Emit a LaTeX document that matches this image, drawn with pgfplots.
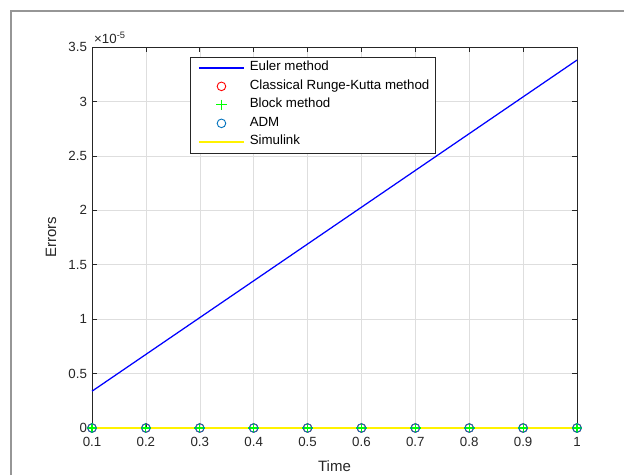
\documentclass[border=0pt]{standalone}
\usepackage{fontspec}
\setmainfont{Liberation Sans}
\usepackage{pgfplots}
\pgfplotsset{compat=1.18}
\definecolor{axisgray}{RGB}{38,38,38}
\definecolor{gridgray}{RGB}{222,222,222}
\definecolor{admblue}{RGB}{0,114,189}
\definecolor{framegray}{RGB}{150,150,150}
\begin{document}
\begin{tikzpicture}
\useasboundingbox (0,0) rectangle (624pt,475pt);
\fill[white] (0,0) rectangle (624pt,475pt);
\draw[framegray, line width=2pt] (11pt,0) -- (11pt,464pt) -- (624pt,464pt);
\begin{axis}[
  at={(92pt,47pt)}, anchor=south west,
  scale only axis, width=485pt, height=381pt,
  xmin=0.1, xmax=1, ymin=0, ymax=3.5,
  xtick={0.1,0.2,0.3,0.4,0.5,0.6,0.7,0.8,0.9,1},
  xticklabels={0.1,0.2,0.3,0.4,0.5,0.6,0.7,0.8,0.9,1},
  ytick={0,0.5,1,1.5,2,2.5,3,3.5},
  yticklabels={0,0.5,1,1.5,2,2.5,3,3.5},
  grid=major, major grid style={gridgray, line width=0.5pt},
  axis line style={axisgray, line width=0.6pt},
  tick style={axisgray, line width=0.6pt}, major tick length=5pt,
  /pgf/number format/assume math mode=true,
  ticklabel style={font=\fontsize{13.3}{16}\selectfont, text=axisgray},
  xticklabel style={yshift=-6pt},
  yticklabel style={xshift=-1.5pt},
  xlabel={Time}, ylabel={Errors},
  every axis x label/.style={at={(axis description cs:0.5,-0.1142)}, anchor=base, font=\fontsize{15}{18}\selectfont, text=axisgray},
  every axis y label/.style={at={(axis description cs:-0.0738,0.5)}, rotate=90, anchor=base, font=\fontsize{15}{18}\selectfont, text=axisgray},
  clip=false,
  legend style={name=leg, at={(0.202,0.974)}, anchor=north west, draw=none, fill=white,
    font=\fontsize{13.3}{16}\selectfont, inner xsep=5.5pt, inner ysep=1.5pt, row sep=0pt,
    column sep=5pt,
    nodes={inner xsep=0pt, inner ysep=2.75pt, text height=9.5pt, text depth=3.5pt}},
  legend cell align=left,
  legend image code/.code={\path (-2.5pt,0pt); \draw[mark repeat=2,mark phase=2,#1] plot coordinates {(0pt,0pt) (22.5pt,0pt) (45pt,0pt)};},
]
\addplot[color=blue, draw=blue, line width=1.25pt,
  legend image code/.code={\path (-2.5pt,0pt); \draw[draw=blue, line width=1.5pt] (0pt,0pt) -- (45pt,0pt);}]
  coordinates {(0.1,0.338) (0.2,0.676) (0.3,1.014) (0.4,1.352) (0.5,1.690) (0.6,2.028) (0.7,2.366) (0.8,2.704) (0.9,3.042) (1.0,3.380)};
\addlegendentry{Euler method}
\addplot[only marks, color=red, draw=red, mark=o, mark size=4.3pt, line width=0.9pt] coordinates {(0.1,0) (0.2,0) (0.3,0) (0.4,0) (0.5,0) (0.6,0) (0.7,0) (0.8,0) (0.9,0) (1.0,0)};
\addlegendentry{Classical Runge-Kutta method}
\addplot[only marks, color=green, draw=green, mark=+, mark size=5.3pt, line width=1.2pt] coordinates {(0.1,0) (0.2,0) (0.3,0) (0.4,0) (0.5,0) (0.6,0) (0.7,0) (0.8,0) (0.9,0) (1.0,0)};
\addlegendentry{Block method}
\addplot[only marks, color=admblue, draw=admblue, mark=o, mark size=4.3pt, line width=0.9pt] coordinates {(0.1,0) (0.2,0) (0.3,0) (0.4,0) (0.5,0) (0.6,0) (0.7,0) (0.8,0) (0.9,0) (1.0,0)};
\addlegendentry{ADM}
\addplot[color=yellow, draw=yellow, line width=1.6pt] coordinates {(0.1,0) (0.2,0) (0.3,0) (0.4,0) (0.5,0) (0.6,0) (0.7,0) (0.8,0) (0.9,0) (1.0,0)};
\addlegendentry{Simulink}
\node[anchor=base west, inner sep=0pt, font=\fontsize{13.3}{16}\selectfont, text=axisgray] at (rel axis cs:0,1) [xshift=2pt, yshift=3.5pt] {×10\textsuperscript{-5}};
\end{axis}
\draw[axisgray, line width=0.5pt] (leg.north west) rectangle (leg.south east);
\end{tikzpicture}
\end{document}
